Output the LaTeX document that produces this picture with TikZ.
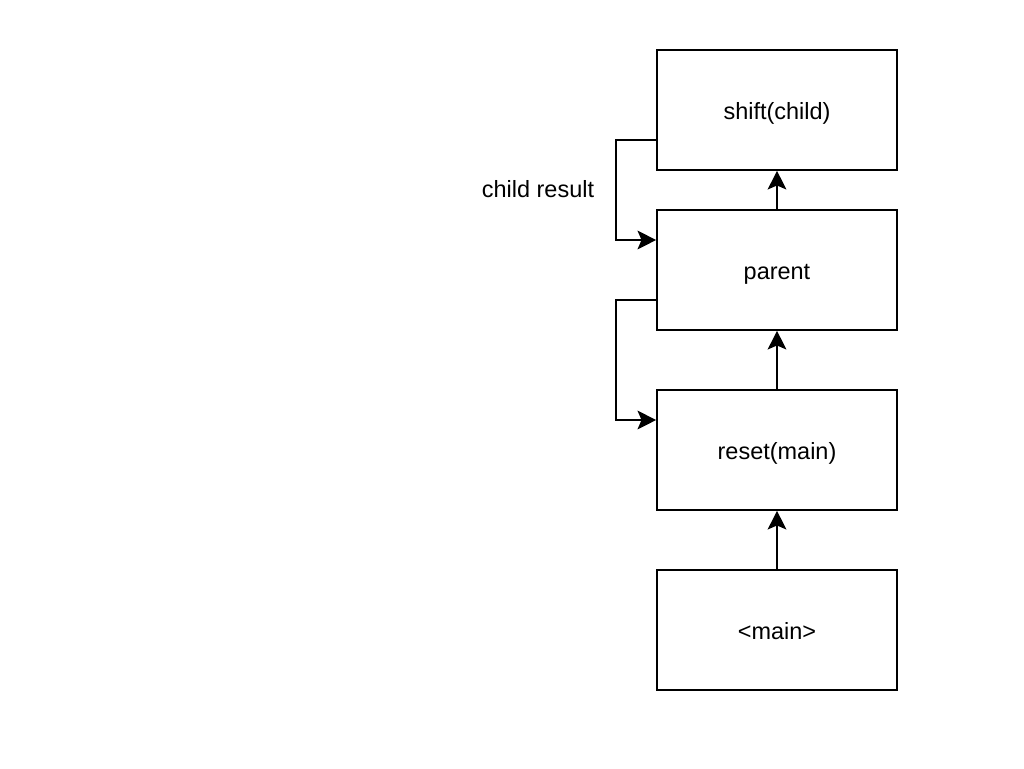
\documentclass[tikz,border=0pt]{standalone}
\usepackage{fontspec}
\setmainfont{Liberation Sans}
\usetikzlibrary{arrows.meta}

\begin{document}
\begin{tikzpicture}[x=0.75pt, y=-0.75pt]
\tikzset{boite/.style={draw, line width=1.2pt, minimum width=180pt, minimum height=90pt, inner sep=0pt, text height=13.5pt, text depth=0pt, font=\fontsize{17.6}{20}\selectfont},
  fleche/.style={line width=1.2pt, -{Stealth[length=14pt, width=14pt, inset=3pt]}}}
\useasboundingbox (0, 0) rectangle (1024, 768);
\node[boite] (S) at (777, 110) {shift(child)};
\node[boite] (P) at (777, 270) {parent};
\node[boite] (R) at (777, 450) {reset(main)};
\node[boite] (M) at (777, 630) {<main>};
\node[font=\fontsize{17.6}{20}\selectfont, text height=13.5pt, text depth=0pt] (L) at (538, 188) {child result};
\draw[fleche] (M) -- (R);
\draw[fleche] (R) -- (P);
\draw[fleche] (P) -- (S);
\draw[fleche] ([yshift=-22.5pt]S.west) -- ++(-30pt, 0) |- ([yshift=22.5pt]P.west);
\draw[fleche] ([yshift=-22.5pt]P.west) -- ++(-30pt, 0) |- ([yshift=22.5pt]R.west);
\end{tikzpicture}
\end{document}
